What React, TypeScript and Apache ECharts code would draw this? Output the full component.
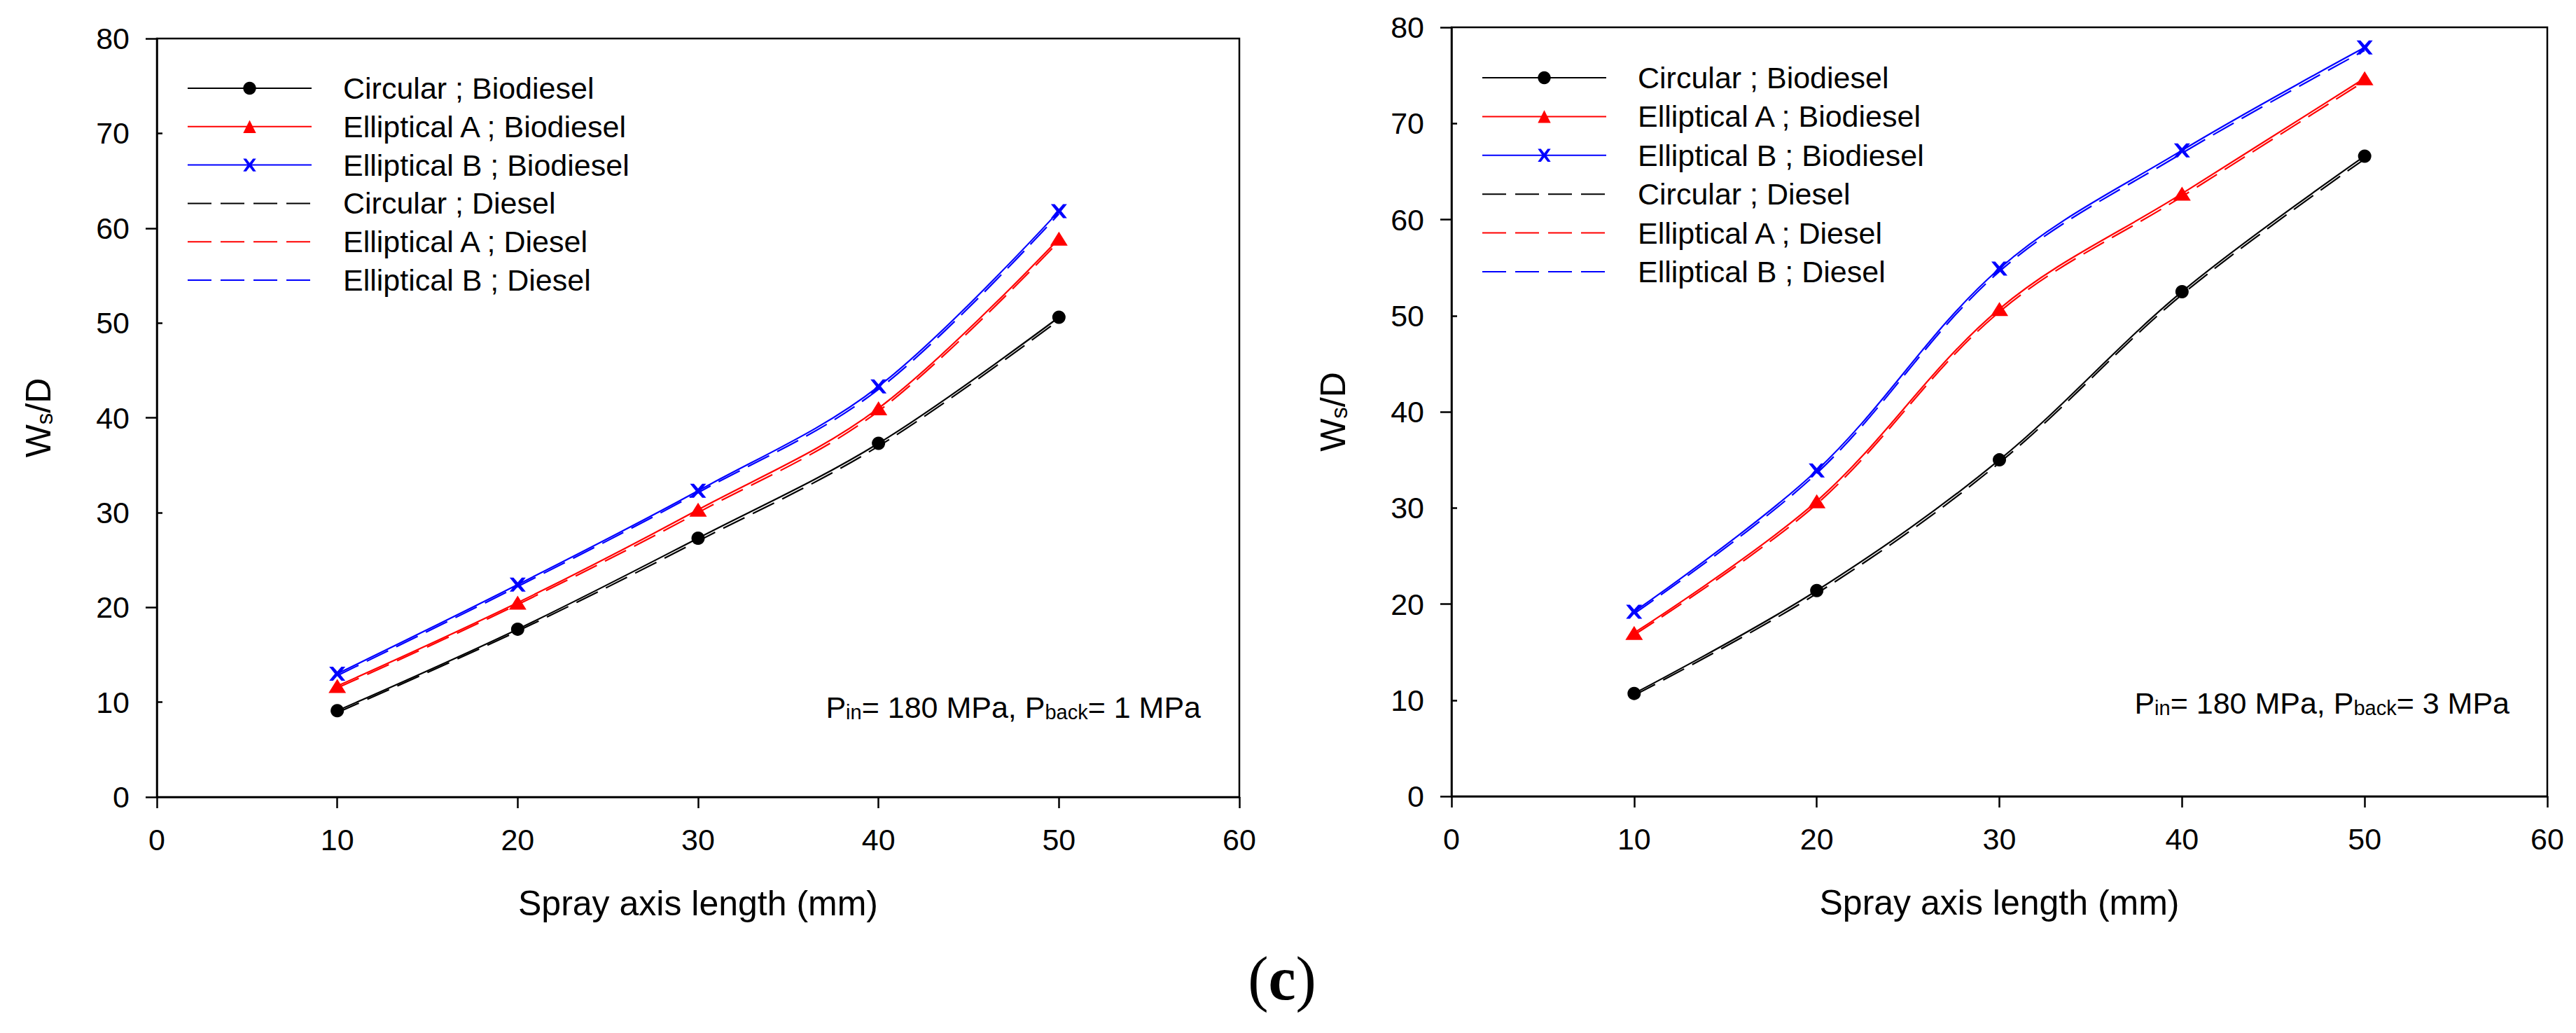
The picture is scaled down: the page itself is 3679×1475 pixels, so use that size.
import React, { useEffect, useRef } from "react";
import * as echarts from "echarts";

// ---- data ----
const X_VALUES = [10, 20, 30, 40, 50];
const X_TICKS = [0, 10, 20, 30, 40, 50, 60];
const Y_TICKS = [0, 10, 20, 30, 40, 50, 60, 70, 80];

const SERIES_NAMES = [
  "Circular ; Biodiesel",
  "Elliptical A ; Biodiesel",
  "Elliptical B ; Biodiesel",
  "Circular ; Diesel",
  "Elliptical A ; Diesel",
  "Elliptical B ; Diesel",
];

// Left panel: Pin = 180 MPa, Pback = 1 MPa
const LEFT_CIRC_BIO = [9.1, 17.7, 27.3, 37.3, 50.6];
const LEFT_ELLA_BIO = [11.7, 20.5, 30.3, 41.0, 58.9];
const LEFT_ELLB_BIO = [13.0, 22.4, 32.3, 43.3, 61.8];
const LEFT_CIRC_DSL = [8.9, 17.5, 27.0, 37.0, 50.3];
const LEFT_ELLA_DSL = [11.5, 20.3, 30.0, 40.7, 58.6];
const LEFT_ELLB_DSL = [12.8, 22.2, 32.1, 43.0, 61.5];

// Right panel: Pin = 180 MPa, Pback = 3 MPa
const RIGHT_CIRC_BIO = [10.7, 21.4, 35.0, 52.5, 66.6];
const RIGHT_ELLA_BIO = [17.0, 30.7, 50.7, 62.7, 74.7];
const RIGHT_ELLB_BIO = [19.2, 33.9, 54.9, 67.2, 77.9];
const RIGHT_CIRC_DSL = [10.5, 21.1, 34.7, 52.2, 66.3];
const RIGHT_ELLA_DSL = [16.8, 30.4, 50.4, 62.4, 74.4];
const RIGHT_ELLB_DSL = [19.0, 33.6, 54.6, 66.9, 77.6];

const FONT = '"Liberation Sans", Arial, sans-serif';
const COLORS = ["#000000", "#ff0000", "#0000ff"];
const X_SYMBOL =
  "path://M0,0 L2.4,0 L5,3.4 L7.6,0 L10,0 L6.5,5 L10,10 L7.6,10 L5,6.6 L2.4,10 L0,10 L3.5,5 Z";
const SYMBOLS: any[] = ["circle", "triangle", X_SYMBOL];
const SYMBOL_SIZES: any[] = [19, [25, 20], [23, 20]];

function pairs(ys: number[]) {
  return X_VALUES.map((x, i) => [x, ys[i]]);
}

function makeSeries(gridIdx: number, bio: number[][], dsl: number[][]) {
  const out: any[] = [];
  const yIdx = gridIdx * 2;
  bio.forEach((ys, k) => {
    out.push({
      type: "line",
      name: SERIES_NAMES[k],
      xAxisIndex: gridIdx,
      yAxisIndex: yIdx,
      data: pairs(ys),
      smooth: 0.35,
      symbol: SYMBOLS[k],
      symbolSize: SYMBOL_SIZES[k],
      showSymbol: true,
      lineStyle: { color: COLORS[k], width: 2.2, type: "solid" },
      itemStyle: { color: COLORS[k] },
      z: 3,
    });
  });
  dsl.forEach((ys, k) => {
    out.push({
      type: "line",
      name: SERIES_NAMES[k + 3],
      xAxisIndex: gridIdx,
      yAxisIndex: yIdx,
      data: pairs(ys),
      smooth: 0.35,
      symbol: "none",
      showSymbol: false,
      lineStyle: { color: COLORS[k], width: 2.2, type: [34, 13] },
      itemStyle: { color: COLORS[k] },
      z: 2,
    });
  });
  return out;
}

function makeXAxis(gridIdx: number) {
  return {
    type: "value",
    gridIndex: gridIdx,
    min: X_TICKS[0],
    max: X_TICKS[X_TICKS.length - 1],
    interval: 10,
    name: "Spray axis length (mm)",
    nameLocation: "middle",
    nameGap: 127,
    nameTextStyle: { fontSize: 50, lineHeight: 50, fontFamily: FONT, color: "#000" },
    axisLine: { show: true, onZero: false, lineStyle: { color: "#000", width: 2.5 } },
    axisTick: { show: true, inside: false, length: 16, lineStyle: { color: "#000", width: 2.5 } },
    axisLabel: { fontSize: 43, lineHeight: 43, margin: 39, color: "#000", fontFamily: FONT },
    splitLine: { show: false },
  };
}

function makeYAxes(gridIdx: number) {
  const major = Y_TICKS.filter((v) => v % 20 === 0);
  const minor = Y_TICKS.filter((v) => v % 20 !== 0);
  return [
    {
      type: "value",
      gridIndex: gridIdx,
      position: "left",
      min: Y_TICKS[0],
      max: Y_TICKS[Y_TICKS.length - 1],
      interval: 10,
      name: "{w|W}{s|s}{w|/D}",
      nameLocation: "middle",
      nameGap: 144,
      nameTextStyle: {
        color: "#000",
        fontFamily: FONT,
        rich: {
          w: { fontSize: 50, lineHeight: 50, fontFamily: FONT, color: "#000" },
          s: { fontSize: 33, lineHeight: 14, verticalAlign: "bottom", fontFamily: FONT, color: "#000" },
        },
      },
      axisLine: { show: true, onZero: false, lineStyle: { color: "#000", width: 2.5 } },
      axisTick: {
        show: true,
        inside: false,
        length: 16,
        customValues: major,
        lineStyle: { color: "#000", width: 2.5 },
      },
      axisLabel: { fontSize: 43, lineHeight: 43, margin: 39, color: "#000", fontFamily: FONT },
      splitLine: { show: false },
    },
    {
      type: "value",
      gridIndex: gridIdx,
      position: "left",
      offset: 0,
      min: Y_TICKS[0],
      max: Y_TICKS[Y_TICKS.length - 1],
      interval: 10,
      axisLine: { show: false, onZero: false },
      axisTick: {
        show: true,
        inside: true,
        length: 8,
        customValues: minor,
        lineStyle: { color: "#000", width: 2.5 },
      },
      axisLabel: { show: false },
      splitLine: { show: false },
    },
  ];
}

function makeLegend(left: number, top: number, gap: number) {
  return {
    orient: "vertical",
    left,
    top,
    padding: 0,
    itemWidth: 177,
    itemHeight: 23,
    itemGap: gap,
    selectedMode: false,
    textStyle: {
      fontSize: 43,
      lineHeight: 44,
      fontFamily: FONT,
      color: "#000",
      padding: [0, 0, 0, 40],
    },
    data: SERIES_NAMES.map((n, i) =>
      i < 3 ? { name: n } : { name: n, itemStyle: { opacity: 0 } }
    ),
  };
}

function annotation(x: number, y: number, back: string) {
  return {
    type: "text",
    x,
    y,
    z: 10,
    style: {
      text: `{m|P}{s|in}{m|= 180 MPa, P}{s|back}{m|= ${back} MPa}`,
      align: "right",
      verticalAlign: "middle",
      fontFamily: FONT,
      fill: "#000",
      rich: {
        m: { fontSize: 43, lineHeight: 43, fontFamily: FONT, fill: "#000" },
        s: { fontSize: 29, lineHeight: 7, verticalAlign: "bottom", fontFamily: FONT, fill: "#000" },
      },
    },
  };
}

export default function App() {
  const ref = useRef<HTMLDivElement>(null);

  useEffect(() => {
    if (!ref.current) return;
    const chart = echarts.init(ref.current, undefined, { renderer: "svg" });

    const option: any = {
      animation: false,
      backgroundColor: "#ffffff",
      grid: [
        { left: 224, top: 55, width: 1546, height: 1083, show: true, borderColor: "#000", borderWidth: 2.5, backgroundColor: "transparent" },
        { left: 2073, top: 39, width: 1565, height: 1098, show: true, borderColor: "#000", borderWidth: 2.5, backgroundColor: "transparent" },
      ],
      xAxis: [makeXAxis(0), makeXAxis(1)],
      yAxis: [...makeYAxes(0), ...makeYAxes(1)],
      legend: [makeLegend(267, 104, 10.8), makeLegend(2116, 89, 11.4)],
      series: [
        ...makeSeries(0, [LEFT_CIRC_BIO, LEFT_ELLA_BIO, LEFT_ELLB_BIO], [LEFT_CIRC_DSL, LEFT_ELLA_DSL, LEFT_ELLB_DSL]),
        ...makeSeries(1, [RIGHT_CIRC_BIO, RIGHT_ELLA_BIO, RIGHT_ELLB_BIO], [RIGHT_CIRC_DSL, RIGHT_ELLA_DSL, RIGHT_ELLB_DSL]),
      ],
      graphic: [
        annotation(1715, 1010, "1"),
        annotation(3584, 1004, "3"),
        {
          type: "text",
          x: 1831,
          y: 1397,
          style: {
            text: "{p|(}{c|c}{p|)}",
            align: "center",
            verticalAlign: "middle",
            fill: "#000",
            rich: {
              p: { fontSize: 88, lineHeight: 90, fontFamily: '"Liberation Serif", "Times New Roman", serif', fill: "#000" },
              c: { fontSize: 88, lineHeight: 90, fontWeight: "bold", fontFamily: '"Liberation Serif", "Times New Roman", serif', fill: "#000" },
            },
          },
        },
      ],
    };

    chart.setOption(option);
    return () => {
      chart.dispose();
    };
  }, []);

  return (
    <div
      ref={ref}
      style={{ position: "absolute", left: 0, top: 0, width: 3679, height: 1475, background: "#fff" }}
    />
  );
}
